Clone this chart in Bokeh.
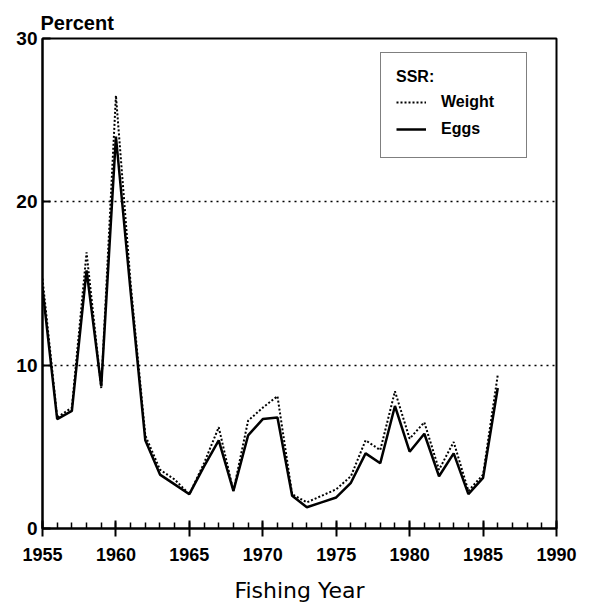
from bokeh.plotting import figure
from bokeh.models import (SingleIntervalTicker, FixedTicker, Legend, LegendItem, Range1d)
from bokeh.embed import file_html
from bokeh.resources import INLINE

# Fishing years and spawning stock ratio (percent)
years = list(range(1955, 1987))
eggs = [14.7, 6.7, 7.2, 15.8, 8.7, 24.0, 14.5, 5.4, 3.3, 2.7, 2.1, 3.8, 5.4, 2.3, 5.7, 6.7,
        6.8, 2.0, 1.3, 1.6, 1.9, 2.8, 4.6, 4.0, 7.5, 4.7, 5.8, 3.2, 4.6, 2.1, 3.1, 8.6]
weight = [15.3, 6.8, 7.4, 16.9, 8.6, 26.5, 15.0, 5.7, 3.6, 3.0, 2.1, 4.0, 6.2, 2.3, 6.6, 7.4,
          8.1, 2.1, 1.6, 2.0, 2.4, 3.2, 5.4, 4.8, 8.4, 5.5, 6.5, 3.6, 5.3, 2.3, 3.3, 9.4]
y_ticks = [0, 10, 20, 30]

FONT = "Liberation Sans"
INK = "black"

p = figure(width=593, height=606, output_backend="svg", toolbar_location=None,
           x_range=Range1d(1955, 1990), y_range=Range1d(0, 30),
           min_border_left=42, min_border_right=37, min_border_top=38, min_border_bottom=78)

p.background_fill_color = "white"
p.border_fill_color = "white"
p.outline_line_color = INK
p.outline_line_width = 2

# title used as the y-axis caption
p.title.text = "Percent"
p.title.align = "left"
p.title.offset = -2
p.title.text_font = FONT
p.title.text_font_size = "20px"
p.title.text_font_style = "bold"
p.title.text_color = INK
p.title.standoff = 9

# axes
xa = p.xaxis[0]
xa.ticker = SingleIntervalTicker(interval=5, num_minor_ticks=5)
xa.major_tick_in = 8
xa.major_tick_out = 8
xa.minor_tick_in = 6
xa.minor_tick_out = 0
xa.axis_line_width = 2
xa.axis_line_color = INK
xa.major_tick_line_color = INK
xa.minor_tick_line_color = INK
xa.major_tick_line_width = 2
xa.minor_tick_line_width = 1.5
xa.major_label_text_font = FONT
xa.major_label_text_font_style = "bold"
xa.major_label_text_font_size = "18px"
xa.major_label_text_color = INK
xa.major_label_standoff = 11
xa.axis_label = "Fishing Year"
xa.axis_label_text_font = "DejaVu Sans"
xa.axis_label_text_font_style = "normal"
xa.axis_label_text_font_size = "22px"
xa.axis_label_text_color = INK
xa.axis_label_standoff = 14

ya = p.yaxis[0]
ya.ticker = FixedTicker(ticks=y_ticks)
ya.major_tick_in = 8
ya.major_tick_out = 0
ya.minor_tick_in = 0
ya.minor_tick_out = 0
ya.axis_line_width = 2
ya.axis_line_color = INK
ya.major_tick_line_color = INK
ya.major_tick_line_width = 2
ya.major_label_text_font = FONT
ya.major_label_text_font_style = "bold"
ya.major_label_text_font_size = "19px"
ya.major_label_text_color = INK
ya.major_label_standoff = 5

p.xgrid.grid_line_color = None
p.ygrid.ticker = FixedTicker(ticks=[10, 20])
p.ygrid.grid_line_color = INK
p.ygrid.grid_line_width = 1.5
p.ygrid.grid_line_dash = "2 4"

r_w = p.line(years, weight, line_color=INK, line_width=2, line_dash="2 2")
r_e = p.line(years, eggs, line_color=INK, line_width=2.5)

legend = Legend(items=[LegendItem(label="Weight", renderers=[r_w]),
                       LegendItem(label="Eggs", renderers=[r_e])],
                location=(338, 370), title="SSR:")
legend.title_text_font = FONT
legend.title_text_font_style = "bold"
legend.title_text_font_size = "16px"
legend.title_text_color = INK
legend.title_standoff = 3
legend.label_text_font = FONT
legend.label_text_font_style = "bold"
legend.label_text_font_size = "16px"
legend.label_text_color = INK
legend.glyph_width = 30
legend.glyph_height = 26
legend.label_height = 26
legend.label_width = 70
legend.label_standoff = 15
legend.padding = 15
legend.spacing = 1
legend.margin = 0
legend.border_line_color = INK
legend.border_line_width = 1.5
legend.background_fill_alpha = 1
p.add_layout(legend)

open("out.html", "w").write(file_html(p, INLINE))
